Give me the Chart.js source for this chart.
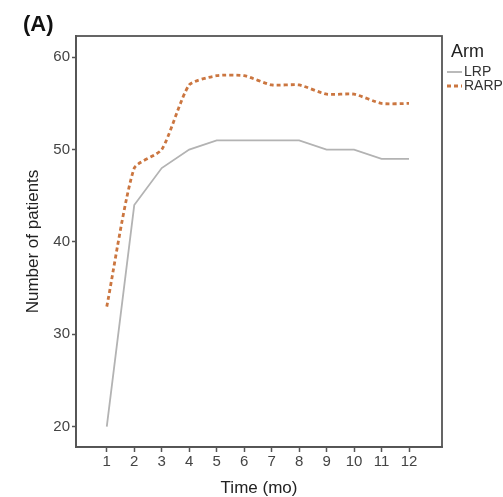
<!DOCTYPE html>
<html><head><meta charset="utf-8">
<script src="https://cdn.jsdelivr.net/npm/chart.js@4"></script>
<style>html,body{margin:0;padding:0;background:#fff}#wrap{width:503px;height:497px;position:relative}</style>
</head><body><div id="wrap"><canvas id="c" width="503" height="497"></canvas></div>
<script>
const months = [1,2,3,4,5,6,7,8,9,10,11,12];
const lrp = [20,44,48,50,51,51,51,51,50,50,49,49];
const rarp = [33,48,50,57,58,58,57,57,56,56,55,55];
const yTicks = [20,30,40,50,60];
const seriesNames = ['LRP','RARP'];
const legendTitle = 'Arm';
const panelLabel = '(A)';
const xTitle = 'Time (mo)';
const yTitle = 'Number of patients';

const FONT = "'Liberation Sans', Arial, sans-serif";
const lrpColor = '#b3b3b3';
const rarpColor = '#cb7640';
const frameColor = '#555555';

const decor = {
  id: 'decor',
  afterDraw(chart) {
    const ctx = chart.ctx, a = chart.chartArea;
    ctx.save();
    ctx.strokeStyle = frameColor;
    ctx.lineWidth = 1.8;
    ctx.strokeRect(a.left, a.top, a.right - a.left, a.bottom - a.top);
    // panel label
    ctx.fillStyle = '#111';
    ctx.font = "bold 22px " + FONT;
    ctx.textBaseline = 'middle';
    ctx.textAlign = 'left';
    ctx.fillText(panelLabel, 23, 25);
    // legend
    ctx.fillStyle = '#222';
    ctx.font = "18px " + FONT;
    ctx.fillText(legendTitle, 451, 52);
    ctx.font = "14px " + FONT;
    ctx.fillStyle = '#333';
    ctx.fillText(seriesNames[0], 464, 72);
    ctx.fillText(seriesNames[1], 464, 86);
    ctx.strokeStyle = lrpColor; ctx.lineWidth = 1.8; ctx.setLineDash([]);
    ctx.beginPath(); ctx.moveTo(447, 72); ctx.lineTo(462, 72); ctx.stroke();
    ctx.strokeStyle = rarpColor; ctx.lineWidth = 2.8; ctx.setLineDash([4,3]);
    ctx.beginPath(); ctx.moveTo(447, 86); ctx.lineTo(462, 86); ctx.stroke();
    ctx.restore();
  }
};

new Chart(document.getElementById('c'), {
  type: 'line',
  data: {
    datasets: [
      { label: seriesNames[0], data: months.map((m,i)=>({x:m,y:lrp[i]})),
        borderColor: lrpColor, borderWidth: 1.8, pointRadius: 0, tension: 0, fill: false },
      { label: seriesNames[1], data: months.map((m,i)=>({x:m,y:rarp[i]})),
        borderColor: rarpColor, borderWidth: 2.8, borderDash: [4,3], pointRadius: 0,
        tension: 0.2, fill: false }
    ]
  },
  options: {
    responsive: false,
    animation: false,
    devicePixelRatio: 1,
    layout: { padding: { top: 36, right: 61, left: 0, bottom: 0 } },
    plugins: { legend: { display: false }, title: { display: false }, tooltip: { enabled: false } },
    scales: {
      x: {
        type: 'linear', min: -0.12, max: 13.2,
        afterBuildTicks: s => { s.ticks = months.map(v => ({ value: v })); },
        afterFit: s => { s.height = 50; },
        grid: { display: true, drawOnChartArea: false, drawTicks: true, tickLength: 5, tickColor: frameColor, tickWidth: 1.5 },
        border: { display: true, color: frameColor, width: 1.8 },
        ticks: { color: '#444', font: { family: FONT, size: 15 }, padding: 1, maxRotation: 0, autoSkip: false },
        title: { display: true, text: xTitle, color: '#222', font: { family: FONT, size: 17, lineHeight: 1 }, padding: { top: 0, bottom: 0 } }
      },
      y: {
        type: 'linear', min: 17.8, max: 62.3,
        afterBuildTicks: s => { s.ticks = yTicks.map(v => ({ value: v })); },
        afterFit: s => { s.width = 76; },
        grid: { display: true, drawOnChartArea: false, drawTicks: true, tickLength: 4, tickColor: frameColor, tickWidth: 1.5 },
        border: { display: true, color: frameColor, width: 1.8 },
        ticks: { color: '#444', font: { family: FONT, size: 15 }, padding: 2 },
        title: { display: true, text: yTitle, color: '#222', font: { family: FONT, size: 17, lineHeight: 1 }, padding: { top: 24.5, bottom: 0 } }
      }
    }
  },
  plugins: [decor]
});
</script></body></html>
